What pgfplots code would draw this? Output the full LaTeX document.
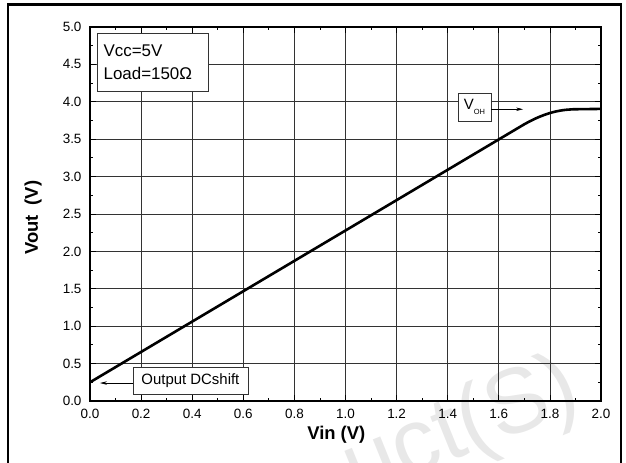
\documentclass[border=0pt]{standalone}
\usepackage{pgfplots}
\pgfplotsset{compat=1.18}
\usepackage{fontspec}
\setmainfont{Liberation Sans}
\usetikzlibrary{arrows.meta}
\begin{document}
\begin{tikzpicture}[x=1bp,y=1bp]
\useasboundingbox (-90,-62) rectangle (536,401);
% outer frame
\draw[line width=2.6bp] (-82,-80) -- (-82,396.5) -- (531,396.5) -- (531,-80);
% faint watermark
\node[text=black!9, rotate=22, font=\fontsize{92}{92}\selectfont] at (372,-30) {uct(S)};
\begin{axis}[
    at={(0,0)}, anchor=south west,
    scale only axis,
    width=511bp, height=374bp,
    xmin=0, xmax=2, ymin=0, ymax=5,
    xtick={0,0.2,...,2.01}, ytick={0,0.5,...,5.01},
    minor x tick num=1, minor y tick num=1,
    xticklabel style={yshift=-5bp, /pgf/number format/.cd, fixed, fixed zerofill, precision=1},
    yticklabel style={xshift=-5bp, /pgf/number format/.cd, fixed, fixed zerofill, precision=1},
    /pgf/number format/assume math mode=true,
    tick label style={font=\fontsize{13.5}{15}\selectfont},
    tick align=inside,
    xtick pos=both, ytick pos=both,
    major tick length=6bp, minor tick length=3bp,
    tick style={black, line width=0.8bp},
    grid=major,
    major grid style={black!80, line width=0.8bp},
    axis line style={black, line width=1.2bp},
    xlabel={\bfseries Vin (V)},
    ylabel={\bfseries Vout\hspace{0.55em}(V)},
    label style={font=\fontsize{18.5}{20}\selectfont},
    xlabel style={at={(axis description cs:0.482,0)}, anchor=base, yshift=-39bp},
    ylabel style={at={(axis description cs:-0.1115,0.49)}, anchor=center},
]
\addplot[black, line width=2.6bp] coordinates {
  (0,0.25) (1.70,3.70) (1.72,3.737) (1.74,3.771) (1.76,3.801) (1.78,3.827)
  (1.80,3.850) (1.82,3.868) (1.84,3.882) (1.86,3.892) (1.89,3.900) (2.0,3.905)
};
\node[draw=black!80, fill=white, anchor=north west, align=left,
      font=\fontsize{17}{23}\selectfont, inner xsep=6.5bp, inner ysep=4bp,
      minimum width=111bp, minimum height=58bp, text width=98bp]
  at (axis cs:0.027,4.92) {Vcc=5V\\Load=150Ω};
\node[draw=black!80, fill=white, minimum width=33bp, minimum height=28bp,
      font=\fontsize{15}{16}\selectfont, inner sep=1bp]
  (voh) at (axis cs:1.505,3.93) {V\raisebox{-0.7ex}{\fontsize{7.5}{8}\selectfont OH}};
\draw[-{Stealth[length=7bp,width=3.5bp]}, line width=0.6bp] (axis cs:1.571,3.90) -- (axis cs:1.695,3.90);
\node[draw=black!80, fill=white, minimum width=115bp, minimum height=27bp,
      font=\fontsize{15}{16}\selectfont, inner sep=1bp]
  at (axis cs:0.393,0.274) {Output DCshift};
\draw[-{Stealth[length=7bp,width=3.5bp]}, line width=0.6bp] (axis cs:0.168,0.24) -- (axis cs:0.039,0.24);
\end{axis}
\end{tikzpicture}
\end{document}
